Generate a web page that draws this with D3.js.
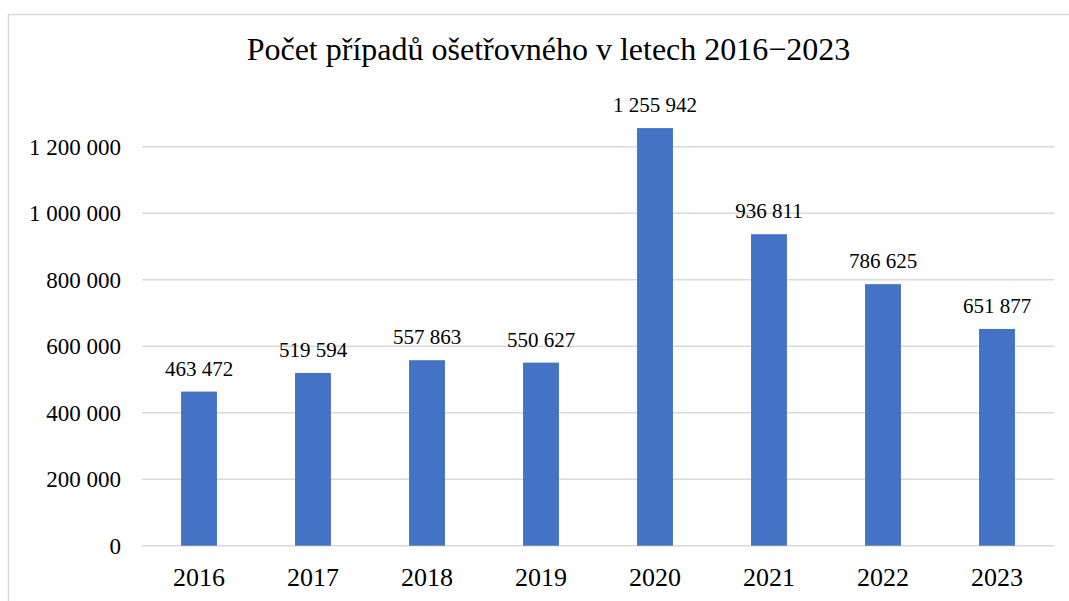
<!DOCTYPE html>
<html>
<head>
<meta charset="utf-8">
<script src="https://cdn.jsdelivr.net/npm/d3@7"></script>
<style>
  body { margin: 0; background: #fff; }
  text { font-family: "Liberation Serif", "Times New Roman", serif; fill: #000; }
</style>
</head>
<body>
<div id="chart"></div>
<script>
// data
var years = ["2016", "2017", "2018", "2019", "2020", "2021", "2022", "2023"];
var cases = [463472, 519594, 557863, 550627, 1255942, 936811, 786625, 651877];
var yTicks = [0, 200000, 400000, 600000, 800000, 1000000, 1200000];
var title = "Počet případů ošetřovného v letech 2016\u22122023";

var W = 1069, H = 601;
var margin = {top: 146.7, right: 15, bottom: 55.3, left: 142},
    width = 1054 - margin.left,
    height = 545.7 - margin.top;

// czech style thousands: space separated
function fmt(v) {
    return d3.format(",")(v).replace(/,/g, " ");
}

var svg = d3.select("#chart")
    .append("svg")
    .attr("width", W)
    .attr("height", H);

// outer border of the chart area
svg.append("rect")
    .attr("x", 8.5)
    .attr("y", 14.5)
    .attr("width", 1100)
    .attr("height", 640)
    .attr("fill", "none")
    .attr("stroke", "#d9d9d9")
    .attr("stroke-width", 1.5);

svg.append("text")
    .attr("x", 548.5)
    .attr("y", 60)
    .attr("text-anchor", "middle")
    .style("font-size", "32px")
    .text(title);

var g = svg.append("g")
    .attr("transform", "translate(" + margin.left + "," + margin.top + ")");

var x = d3.scaleBand()
    .domain(years)
    .range([0, width])
    .paddingInner(0.685)
    .paddingOuter(0.3425);

var y = d3.scaleLinear()
    .domain([0, 1200000])
    .range([height, 0]);

// gridlines
g.append("g")
    .selectAll("line")
    .data(yTicks)
    .enter()
    .append("line")
    .attr("x1", 0)
    .attr("x2", width)
    .attr("y1", function (d) { return y(d); })
    .attr("y2", function (d) { return y(d); })
    .attr("stroke", "#d9d9d9")
    .attr("stroke-width", 1.5);

// Y axis labels
var yAxis = g.append("g")
    .call(d3.axisLeft(y).tickValues(yTicks).tickSize(0).tickPadding(21).tickFormat(fmt));
yAxis.select(".domain").remove();
yAxis.selectAll("text")
    .style("font-size", "23px")
    .style("font-family", "Liberation Serif, serif")
    .attr("fill", "#000");

// X axis labels
var xAxis = g.append("g")
    .attr("transform", "translate(0," + height + ")")
    .call(d3.axisBottom(x).tickSize(0).tickPadding(0));
xAxis.select(".domain").remove();
xAxis.selectAll("text")
    .attr("dy", null)
    .attr("y", 40.3)
    .style("font-size", "26px")
    .style("font-family", "Liberation Serif, serif")
    .attr("fill", "#000");

// bars
g.append("g")
    .selectAll("rect")
    .data(years)
    .enter()
    .append("rect")
    .attr("x", function (d) { return x(d); })
    .attr("width", x.bandwidth())
    .attr("y", function (d, i) { return y(cases[i]); })
    .attr("height", function (d, i) { return height - y(cases[i]); })
    .attr("fill", "#4472c4");

// value labels
g.append("g")
    .selectAll("text")
    .data(years)
    .enter()
    .append("text")
    .attr("x", function (d) { return x(d) + x.bandwidth() / 2; })
    .attr("y", function (d, i) { return y(cases[i]) - 16; })
    .attr("text-anchor", "middle")
    .style("font-size", "21px")
    .text(function (d, i) { return fmt(cases[i]); });
</script>
</body>
</html>
